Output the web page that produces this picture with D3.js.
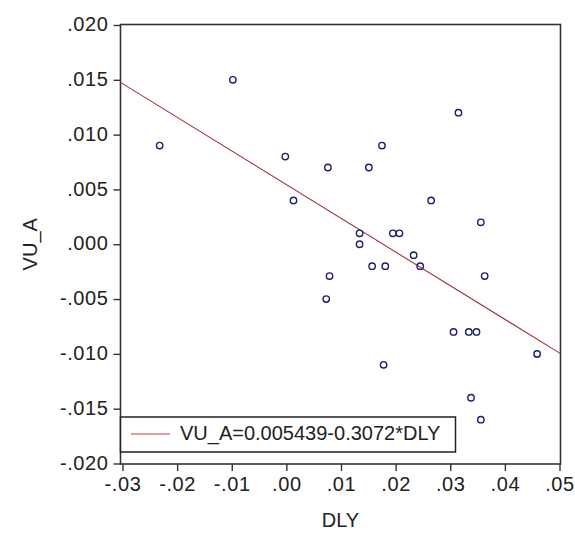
<!DOCTYPE html>
<html>
<head>
<meta charset="utf-8">
<script src="https://cdn.jsdelivr.net/npm/d3@7/dist/d3.min.js"></script>
<style>
  html, body { margin: 0; padding: 0; background: #fff; }
  svg text { font-family: Arial, "Liberation Sans", sans-serif; fill: #222; }
</style>
</head>
<body>
<svg id="chart" width="575" height="550"></svg>
<script>
// Observations: DLY (x) against VU_A (y)
const dly = [-0.0232, -0.0098, -0.0002, 0.0013, 0.0076, 0.0175, 0.0151, 0.0315,
             0.0265, 0.0134, 0.0134, 0.0195, 0.0207, 0.0233, 0.0157, 0.0181,
             0.0245, 0.0079, 0.0073, 0.0363, 0.0356, 0.0306, 0.0334, 0.0348,
             0.0459, 0.0178, 0.0338, 0.0356];
const vuA = [0.009, 0.015, 0.008, 0.004, 0.007, 0.009, 0.007, 0.012,
             0.004, 0.001, 0.000, 0.001, 0.001, -0.001, -0.002, -0.002,
             -0.002, -0.0029, -0.005, -0.0029, 0.002, -0.008, -0.008, -0.008,
             -0.010, -0.011, -0.014, -0.016];

// Fitted line VU_A = a + b*DLY
const intercept = 0.005439;
const slope = -0.3072;
const legendLabel = "VU_A=0.005439-0.3072*DLY";

const xTicks = [-0.03, -0.02, -0.01, 0.00, 0.01, 0.02, 0.03, 0.04, 0.05];
const xTickLabels = ["-.03", "-.02", "-.01", ".00", ".01", ".02", ".03", ".04", ".05"];
const yTicks = [0.020, 0.015, 0.010, 0.005, 0.000, -0.005, -0.010, -0.015, -0.020];
const yTickLabels = [".020", ".015", ".010", ".005", ".000", "-.005", "-.010", "-.015", "-.020"];

const svg = d3.select("#chart");
const frame = { left: 120.5, right: 560.5, top: 24.5, bottom: 464 };

const x = d3.scaleLinear().domain([-0.03, 0.05]).range([122.5, 559.5]);
const y = d3.scaleLinear().domain([-0.02, 0.02]).range([463.5, 25]);

// Plot frame
svg.append("rect")
  .attr("x", frame.left).attr("y", frame.top)
  .attr("width", frame.right - frame.left)
  .attr("height", frame.bottom - frame.top)
  .attr("fill", "#fff").attr("stroke", "#333").attr("stroke-width", 1.6);

// Axes
const yAxis = d3.axisLeft(y)
  .tickValues(yTicks)
  .tickSize(7).tickPadding(5)
  .tickFormat((d, i) => yTickLabels[i]);
const gy = svg.append("g").attr("transform", `translate(${frame.left},0)`).call(yAxis);

const xAxis = d3.axisBottom(x)
  .tickValues(xTicks)
  .tickSize(7).tickPadding(6)
  .tickFormat((d, i) => xTickLabels[i]);
const gx = svg.append("g").attr("transform", `translate(0,${frame.bottom})`).call(xAxis);

[gx, gy].forEach(g => {
  g.select(".domain").remove();
  g.selectAll(".tick line").attr("stroke", "#333").attr("stroke-width", 1.4);
  g.selectAll(".tick text").attr("font-size", 20).attr("fill", "#222")
    .attr("letter-spacing", 0.6)
    .style("font-family", "Arial, 'Liberation Sans', sans-serif");
});
gy.selectAll(".tick text").attr("dy", "0.28em");

// Regression line across the frame
const x0 = x.invert(frame.left), x1 = x.invert(frame.right);
svg.append("line")
  .attr("x1", x(x0)).attr("y1", y(intercept + slope * x0))
  .attr("x2", x(x1)).attr("y2", y(intercept + slope * x1))
  .attr("stroke", "#a8343a").attr("stroke-width", 1.1);

// Scatter points
svg.append("g").selectAll("circle")
  .data(dly.map((d, i) => [d, vuA[i]]))
  .join("circle")
  .attr("cx", d => x(d[0]))
  .attr("cy", d => y(d[1]))
  .attr("r", 3.2)
  .attr("fill", "none")
  .attr("stroke", "#1c1f6b")
  .attr("stroke-width", 1.4);

// Legend
const legend = svg.append("g");
legend.append("rect")
  .attr("x", frame.left).attr("y", 417)
  .attr("width", 335).attr("height", 35)
  .attr("fill", "#fff").attr("stroke", "#222").attr("stroke-width", 1.5);
legend.append("line")
  .attr("x1", 131).attr("x2", 170).attr("y1", 434).attr("y2", 434)
  .attr("stroke", "#c8383e").attr("stroke-width", 1.2);
legend.append("text")
  .attr("x", 180).attr("y", 440)
  .attr("font-size", 20)
  .text(legendLabel);

// Axis titles
svg.append("text")
  .attr("transform", `translate(37,${(frame.top + frame.bottom) / 2}) rotate(-90)`)
  .attr("text-anchor", "middle")
  .attr("font-size", 20)
  .text("VU_A");
svg.append("text")
  .attr("x", (frame.left + frame.right) / 2).attr("y", 527)
  .attr("text-anchor", "middle")
  .attr("font-size", 20)
  .text("DLY");
</script>
</body>
</html>
